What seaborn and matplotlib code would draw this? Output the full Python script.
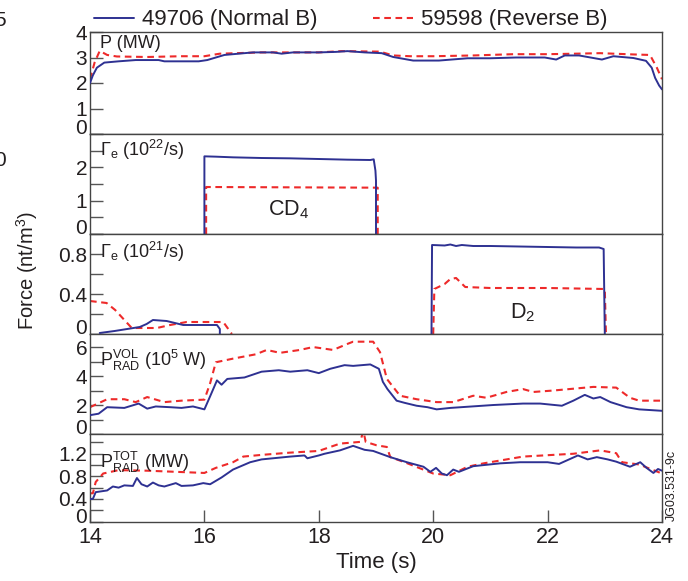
import numpy as np
import pandas as pd
import matplotlib
matplotlib.use("Agg")
import matplotlib.pyplot as plt
from matplotlib.lines import Line2D
from matplotlib.ticker import MultipleLocator, FixedLocator, FuncFormatter
import seaborn as sns

# ---------------- data ----------------
# Panel 1: P (MW)
p_t_blue = [14.0, 14.05, 14.12, 14.25, 14.5, 14.8, 15.2, 15.3, 15.9, 16.05, 16.35, 16.85, 17.2, 17.35,
            17.55, 18.0, 18.3, 18.5, 18.8, 19.1, 19.3, 19.65, 20.1, 20.6, 21.0, 21.45, 21.95, 22.15,
            22.3, 22.55, 22.95, 23.15, 23.5, 23.72, 23.82, 23.88, 23.95, 24.0]
p_v_blue = [2.0, 2.3, 2.6, 2.8, 2.85, 2.9, 2.9, 2.85, 2.85, 2.9, 3.1, 3.2, 3.2, 3.15,
            3.2, 3.2, 3.22, 3.25, 3.2, 3.17, 3.02, 2.88, 2.88, 2.97, 2.97, 3.0, 3.0, 2.92,
            3.08, 3.08, 2.92, 3.05, 2.98, 2.87, 2.6, 2.2, 1.9, 1.75]
p_t_red = [14.0, 14.08, 14.17, 14.3, 14.47, 15.0, 15.6, 16.0, 16.27, 17.0, 18.0, 18.4, 19.07,
           19.3, 19.6, 20.0, 20.7, 21.4, 22.0, 22.5, 22.92, 23.5, 23.79, 23.91, 24.0]
p_v_red = [2.15, 2.8, 3.26, 3.1, 3.04, 3.02, 3.05, 3.05, 3.15, 3.2, 3.2, 3.25, 3.23,
           3.08, 3.05, 3.05, 3.08, 3.13, 3.13, 3.15, 3.17, 3.12, 3.1, 2.6, 2.15]

# Panel 2: Gamma_e (1e22/s), CD4 puff
cd4_t_blue = [16.0, 16.0, 16.2, 16.5, 17.0, 17.5, 18.0, 18.5, 18.9, 18.96, 18.99, 19.0, 19.0]
cd4_v_blue = [0.0, 2.33, 2.32, 2.30, 2.28, 2.27, 2.25, 2.23, 2.22, 2.24, 1.9, 1.6, 0.0]
cd4_t_red = [16.03, 16.03, 18.98, 19.03, 19.03]
cd4_v_red = [0.0, 1.41, 1.39, 1.39, 0.0]

# Panel 3: Gamma_e (1e21/s), D2 puff
d2_t_blue_a = [14.17, 14.43, 14.87, 14.99, 15.1, 15.34, 15.63, 16.22, 16.27, 16.27]
d2_v_blue_a = [0.01, 0.03, 0.07, 0.10, 0.14, 0.13, 0.09, 0.09, 0.05, 0.0]
d2_t_blue_b = [19.97, 19.98, 20.2, 20.3, 20.4, 20.5, 20.7, 21.0, 21.5, 22.0, 22.5, 22.9, 22.98, 23.0]
d2_v_blue_b = [0.0, 0.89, 0.885, 0.895, 0.88, 0.89, 0.88, 0.88, 0.875, 0.87, 0.865, 0.865, 0.85, 0.0]
d2_t_red_a = [14.0, 14.29, 14.44, 14.73, 15.17, 15.4, 15.69, 16.33, 16.48]
d2_v_red_a = [0.33, 0.31, 0.24, 0.06, 0.06, 0.09, 0.12, 0.12, 0.0]
d2_t_red_b = [20.0, 20.02, 20.2, 20.3, 20.4, 20.56, 21.0, 22.0, 23.0, 23.02]
d2_v_red_b = [0.0, 0.45, 0.50, 0.55, 0.56, 0.47, 0.46, 0.46, 0.45, 0.0]

# Panel 4: P_RAD VOL (1e5 W)
vol_t_blue = [14.0, 14.15, 14.3, 14.6, 14.85, 15.0, 15.15, 15.4, 15.6, 15.8, 16.0, 16.1, 16.22, 16.3,
              16.4, 16.7, 17.0, 17.3, 17.5, 17.8, 18.0, 18.2, 18.45, 18.6, 18.9, 19.05, 19.12, 19.2,
              19.36, 19.5, 19.71, 19.9, 20.06, 20.3, 21.05, 21.57, 21.87, 22.25, 22.45, 22.65, 22.8,
              22.92, 23.1, 23.38, 23.6, 24.0]
vol_v_blue = [1.3, 1.4, 1.85, 1.8, 2.1, 1.75, 1.9, 1.85, 1.8, 1.9, 1.7, 2.6, 3.7, 3.4,
              3.8, 3.9, 4.3, 4.4, 4.3, 4.4, 4.2, 4.5, 4.75, 4.7, 4.8, 4.5, 3.6, 3.1,
              2.3, 2.15, 1.95, 1.85, 1.7, 1.8, 2.0, 2.1, 2.1, 1.95, 2.3, 2.7, 2.45,
              2.55, 2.2, 1.85, 1.7, 1.6]
vol_t_red = [14.0, 14.3, 14.6, 14.8, 15.0, 15.3, 15.6, 16.0, 16.1, 16.2, 16.5, 16.9, 17.09, 17.32,
             17.67, 17.9, 18.25, 18.49, 18.6, 18.95, 19.07, 19.19, 19.42, 19.71, 20.06, 20.35, 20.7,
             20.93, 21.28, 21.57, 21.75, 22.1, 22.8, 23.2, 23.44, 23.6, 24.0]
vol_v_red = [1.85, 2.4, 2.4, 2.2, 2.55, 2.2, 2.3, 2.37, 3.5, 4.95, 5.2, 5.5, 5.8, 5.6,
             5.8, 6.0, 5.8, 6.2, 6.37, 6.37, 5.65, 3.8, 2.64, 2.4, 2.2, 2.2, 2.64,
             2.5, 2.9, 3.1, 2.9, 3.0, 3.25, 3.2, 2.5, 2.3, 2.3]

# Panel 5: P_RAD TOT (MW)
tot_t_blue = [14.0, 14.05, 14.1, 14.3, 14.4, 14.5, 14.6, 14.75, 14.82, 14.9, 15.0, 15.1, 15.2, 15.3,
              15.5, 15.6, 15.8, 15.98, 16.1, 16.3, 16.5, 16.8, 17.0, 17.5, 17.75, 17.8, 18.0, 18.1,
              18.37, 18.6, 18.8, 18.95, 19.25, 19.54, 19.83, 19.95, 20.05, 20.15, 20.24, 20.35, 20.45,
              20.7, 21.17, 21.52, 22.0, 22.2, 22.53, 22.7, 22.86, 23.05, 23.2, 23.44, 23.62, 23.73,
              23.85, 23.93, 24.0]
tot_v_blue = [0.4, 0.4, 0.52, 0.55, 0.62, 0.6, 0.64, 0.63, 0.77, 0.66, 0.62, 0.69, 0.64, 0.62,
              0.68, 0.63, 0.64, 0.68, 0.66, 0.78, 0.92, 1.05, 1.1, 1.15, 1.17, 1.12, 1.17, 1.2,
              1.26, 1.34, 1.27, 1.25, 1.14, 1.05, 0.97, 0.88, 0.95, 0.85, 0.82, 0.92, 0.88,
              0.98, 1.03, 1.05, 1.05, 1.02, 1.17, 1.1, 1.14, 1.1, 1.06, 0.97, 1.05, 0.95,
              0.86, 0.93, 0.9]
tot_t_red = [14.0, 14.05, 14.1, 14.23, 14.5, 15.0, 15.5, 16.0, 16.2, 16.5, 16.68, 17.0, 17.5, 18.0,
             18.37, 18.72, 18.78, 18.82, 19.01, 19.19, 19.25, 19.5, 20.0, 20.3, 20.6, 20.88, 21.57,
             22.45, 22.92, 23.2, 23.3, 23.6, 24.0]
tot_v_red = [0.5, 0.5, 0.7, 0.85, 0.91, 0.9, 0.88, 0.86, 0.95, 1.05, 1.15, 1.18, 1.22, 1.25,
             1.38, 1.41, 1.6, 1.41, 1.35, 1.32, 1.14, 1.05, 0.85, 0.82, 0.97, 1.03, 1.15,
             1.2, 1.26, 1.21, 1.05, 1.01, 0.85]

legend_labels = ["49706 (Normal B)", "59598 (Reverse B)"]
x_ticks = [14, 16, 18, 20, 22, 24]

# ---------------- style ----------------
sns.set_style("white")
FONT = ["Liberation Sans", "DejaVu Sans"]
plt.rcParams["font.family"] = FONT
plt.rcParams["mathtext.fontset"] = "custom"
plt.rcParams["mathtext.rm"] = "Liberation Sans"
plt.rcParams["mathtext.it"] = "Liberation Sans:italic"

BLUE = "#2e3192"
RED = "#ee2a2a"
DASH = (0, (3.2, 2.2))
TXT = "#231f20"

W, H = 688, 581
fig = plt.figure(figsize=(W / 100, H / 100), dpi=100)

left, right = 90 / W, 662 / W
bounds_px = [(32, 134), (134, 234), (234, 334), (334, 434), (434, 521.5)]
axes = []
for top, bot in bounds_px:
    ax = fig.add_axes([left, 1 - bot / H, right - left, (bot - top) / H])
    axes.append(ax)


def seg_df(pairs):
    frames = []
    for i, (t, v) in enumerate(pairs):
        frames.append(pd.DataFrame({"t": t, "v": v, "seg": i}))
    return pd.concat(frames, ignore_index=True)


def draw(ax, blue_pairs, red_pairs):
    db = seg_df(blue_pairs)
    dr = seg_df(red_pairs)
    sns.lineplot(data=dr, x="t", y="v", units="seg", estimator=None, sort=False,
                 ax=ax, color=RED, linewidth=1.5, linestyle=DASH, legend=False, zorder=2)
    sns.lineplot(data=db, x="t", y="v", units="seg", estimator=None, sort=False,
                 ax=ax, color=BLUE, linewidth=1.4, legend=False, zorder=3)


draw(axes[0], [(p_t_blue, p_v_blue)], [(p_t_red, p_v_red)])
draw(axes[1], [(cd4_t_blue, cd4_v_blue)], [(cd4_t_red, cd4_v_red)])
draw(axes[2], [(d2_t_blue_a, d2_v_blue_a), (d2_t_blue_b, d2_v_blue_b)],
     [(d2_t_red_a, d2_v_red_a), (d2_t_red_b, d2_v_red_b)])
draw(axes[3], [(vol_t_blue, vol_v_blue)], [(vol_t_red, vol_v_red)])
draw(axes[4], [(tot_t_blue, tot_v_blue)], [(tot_t_red, tot_v_red)])

ylims = [(0, 4.0), (0, 3.0), (0, 1.0), (0, 6.9), (0, 1.55)]
minor_step = [1, 0.5, 0.2, 1, 0.2]
labeled = [[1, 2, 3, 4], [1, 2], [0.4, 0.8], [2, 4, 6], [0.4, 0.8, 1.2]]
zero_raise = [6, 6, 6, 6, 4]

def fmt(v, pos):
    if abs(v - round(v)) < 1e-9:
        return str(int(round(v)))
    return ("%.1f" % v)

YT = 15
for i, ax in enumerate(axes):
    ax.set_xlim(14, 24)
    ax.set_ylim(*ylims[i])
    ax.set_xlabel("")
    ax.set_ylabel("")
    ax.yaxis.set_major_locator(FixedLocator(labeled[i]))
    ax.yaxis.set_major_formatter(FuncFormatter(fmt))
    ax.yaxis.set_minor_locator(MultipleLocator(minor_step[i]))
    ax.tick_params(axis="y", which="both", direction="in", length=9, width=1.0,
                   color="#555555", left=True, right=False, labelsize=YT, pad=2,
                   labelcolor=TXT)
    # zero label sits a little above the baseline, as in the original
    ax.annotate("0", xy=(0, 0), xycoords=("axes fraction", "data"), xytext=(-3, zero_raise[i]),
                textcoords="offset pixels", ha="right", va="center", fontsize=YT, color=TXT)
    for s in ax.spines.values():
        s.set_color("#444444")
        s.set_linewidth(1.0)
    if i < 4:
        ax.tick_params(axis="x", which="both", bottom=False, top=False, labelbottom=False)
    ax.set_facecolor("white")

axb = axes[4]
axb.set_xticks(x_ticks)
axb.xaxis.set_major_formatter(FuncFormatter(lambda v, p: "%d" % v))
axb.tick_params(axis="x", which="major", direction="in", length=9, width=1.0,
                color="#555555", bottom=True, labelsize=15.5, pad=4, labelcolor=TXT)
axb.set_xlabel("Time (s)", fontsize=16, color=TXT, labelpad=3)

# in-panel labels
lab_kw = dict(fontsize=13, color=TXT, va="center", ha="left")
axes[0].text(0.017, 0.89, "P (MW)", transform=axes[0].transAxes, **lab_kw)
axes[1].text(0.017, 0.84, "\u0393$_\\mathregular{e}$ (10$^\\mathregular{22}$/s)",
             transform=axes[1].transAxes, **lab_kw)
axes[2].text(0.017, 0.82, "\u0393$_\\mathregular{e}$ (10$^\\mathregular{21}$/s)",
             transform=axes[2].transAxes, **lab_kw)
axes[3].text(0.017, 0.74, "P$_\\mathregular{RAD}^\\mathregular{VOL}$ (10$^\\mathregular{5}$ W)",
             transform=axes[3].transAxes, **lab_kw)
axes[4].text(0.017, 0.68, "P$_\\mathregular{RAD}^\\mathregular{TOT}$ (MW)",
             transform=axes[4].transAxes, **lab_kw)
axes[1].text(17.48, 0.72, "CD$_\\mathregular{4}$", fontsize=15.5, color=TXT, ha="center", va="center")
axes[2].text(21.57, 0.21, "D$_\\mathregular{2}$", fontsize=15.5, color=TXT, ha="center", va="center")

# y label
fig.text(27 / W, 1 - 271 / H, "Force (nt/m$^\\mathregular{3}$)", rotation=90, fontsize=14.5,
         color=TXT, ha="center", va="center")
# figure id
fig.text(672 / W, 1 - 485 / H, "JG03.531-9c", rotation=90, fontsize=9, color=TXT,
         ha="center", va="center")
# cropped remnants at the left edge
fig.text(6 / W, 1 - 20 / H, "5", fontsize=15, color=TXT, ha="right", va="center")
fig.text(6 / W, 1 - 160 / H, "0", fontsize=15, color=TXT, ha="right", va="center")

# legend
handles = [Line2D([], [], color=BLUE, linewidth=1.4),
           Line2D([], [], color=RED, linewidth=1.5, linestyle=DASH)]
fig.legend(handles, legend_labels, loc="center", bbox_to_anchor=(0.51, 1 - 20 / H), ncol=2,
           frameon=False, fontsize=16, handlelength=1.8, handletextpad=0.36, columnspacing=2.5,
           borderaxespad=0, borderpad=0, labelcolor=TXT)

fig.savefig("out.png", dpi=100)
